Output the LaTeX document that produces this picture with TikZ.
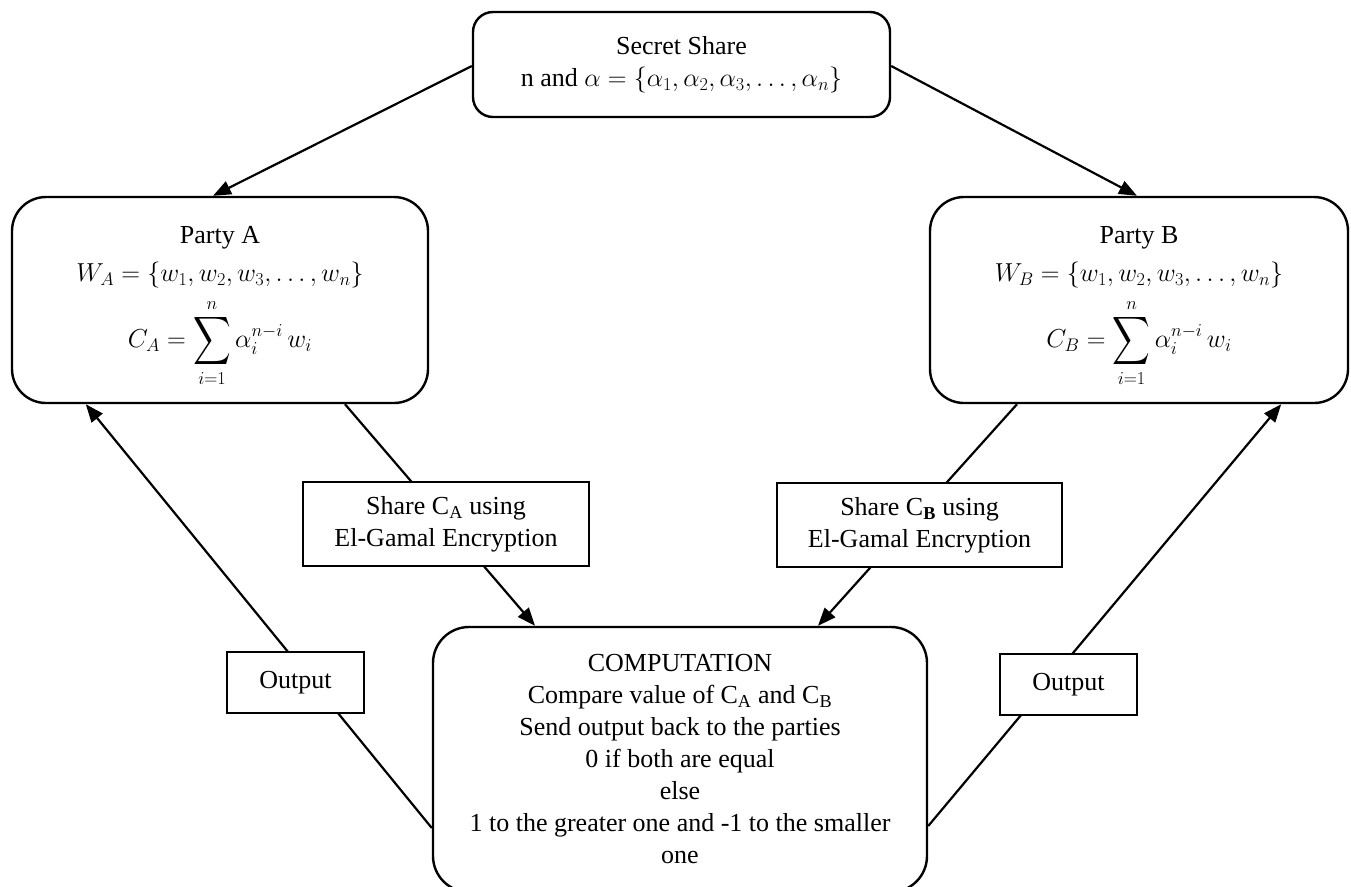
\RequirePackage{fix-cm}
\documentclass[tikz,border=0pt]{standalone}
\usepackage{amsmath}
\usepackage{graphicx}
\usepackage{fontspec}
\setmainfont{Liberation Serif}
\usetikzlibrary{arrows.meta,calc,backgrounds}
\newcommand{\bigsum}{\mathop{\vcenter{\hbox{\scalebox{1.05}[1.35]{$\displaystyle\sum$}}}}\limits}
\begin{document}
\begin{tikzpicture}[x=1pt,y=-1pt,
  every node/.style={font=\fontsize{26}{32}\selectfont, align=center, inner sep=0pt},
  rbox/.style={draw, line width=2.4pt, rounded corners=#1, fill=white},
  sbox/.style={draw, line width=2.4pt, fill=white},
  conn/.style={line width=2.2pt},
  arr/.style={conn, -{Triangle[length=18pt,width=14pt]}}]
\useasboundingbox (0,0) rectangle (1351,886);

\node[rbox=20pt, minimum width=417pt, minimum height=105pt] (ss) at (681.5,64.5)
  {Secret Share\\ n and $\alpha=\{\alpha_1,\alpha_2,\alpha_3,\ldots,\alpha_n\}$};

\node[rbox=34pt, minimum width=416pt, minimum height=206pt] (pA) at (220,300)
  {\rule{0pt}{30pt}Party A\\[6pt] $W_A=\{w_1,w_2,w_3,\ldots,w_n\}$\\[10pt] $\displaystyle C_A=\bigsum_{i=1}^{n}\alpha_i^{n-i}\,w_i$};

\node[rbox=34pt, minimum width=418pt, minimum height=206pt] (pB) at (1139,300)
  {\rule{0pt}{30pt}Party B\\[6pt] $W_B=\{w_1,w_2,w_3,\ldots,w_n\}$\\[10pt] $\displaystyle C_B=\bigsum_{i=1}^{n}\alpha_i^{n-i}\,w_i$};

\node[sbox, minimum width=286pt, minimum height=84pt] (shA) at (446,524)
  {Share C\textsubscript{A} using\\ El-Gamal Encryption};

\node[sbox, minimum width=285pt, minimum height=84pt] (shB) at (919.5,525)
  {Share C\textsubscript{\textbf{B}} using\\ El-Gamal Encryption};

\node[rbox=36pt, minimum width=494pt, minimum height=265pt] (comp) at (680,759.5)
  {COMPUTATION\\ Compare value of C\textsubscript{A} and C\textsubscript{B}\\ Send output back to the parties\\ 0 if both are equal\\ else\\ 1 to the greater one and -1 to the smaller\\ one};

\node[sbox, minimum width=137pt, minimum height=61pt] (outA) at (295.5,682.5) {Output};
\node[sbox, minimum width=137pt, minimum height=61pt] (outB) at (1068.5,684.5) {Output};

\begin{scope}[on background layer]
\draw[arr] ($(ss.west)+(0,1.5)$) -- ($(pA.north)+(-7,0)$);
\draw[arr] ($(ss.east)+(0,1.5)$) -- ($(pB.north)+(-2,0)$);
\draw[arr] ($(pA.south)+(125,0)$) -- ($(comp.north)+(-145,0)$);
\draw[arr] ($(pB.south)+(-122,0)$) -- ($(comp.north)+(138,0)$);
\draw[arr] ($(comp.west)+(0,68.5)$) -- ($(pA.south west)+(75,0)$);
\draw[arr] ($(comp.east)+(0,66.5)$) -- ($(pB.south east)+(-68,0)$);
\end{scope}
\end{tikzpicture}
\end{document}
